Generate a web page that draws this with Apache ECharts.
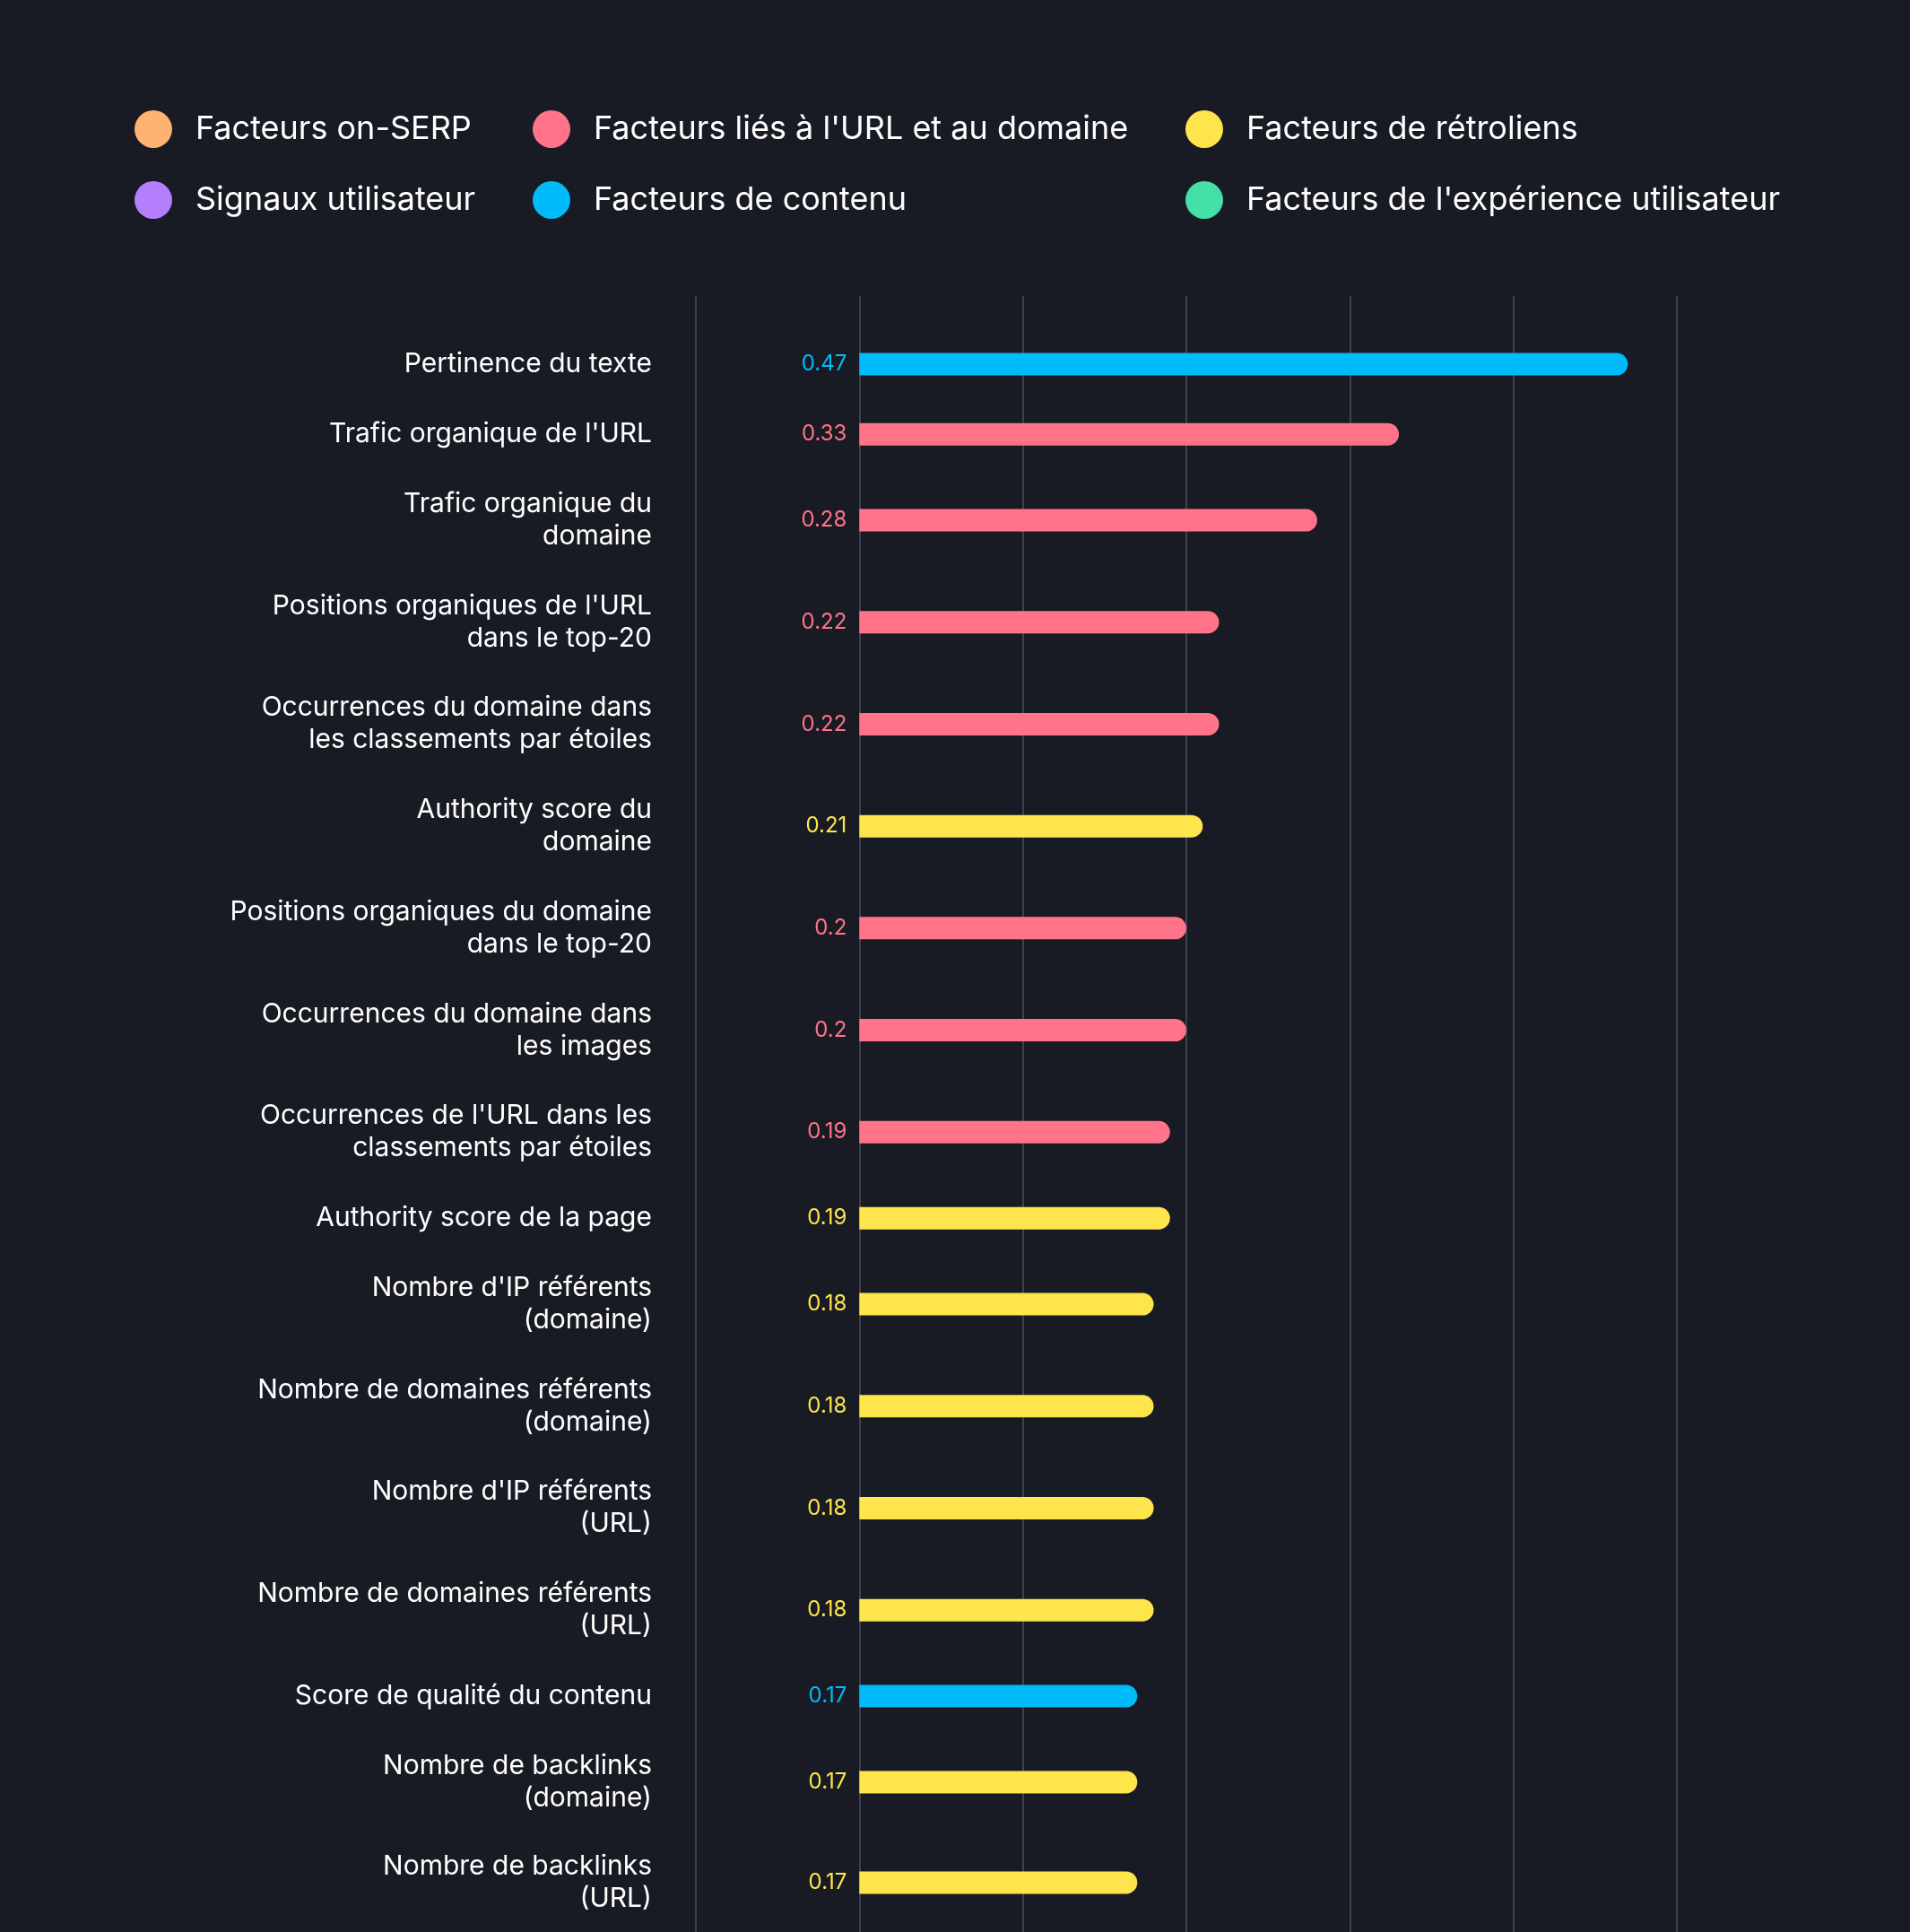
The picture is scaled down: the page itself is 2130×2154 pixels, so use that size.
<!DOCTYPE html>
<html><head><meta charset="utf-8">
<script src="https://cdn.jsdelivr.net/npm/echarts@6/dist/echarts.min.js"></script>
<style>html,body{margin:0;padding:0;background:#191b24}#c{width:2130px;height:2154px}</style>
</head><body><div id="c"></div>
<script>
const categories = [
  "Pertinence du texte",
  "Trafic organique de l'URL",
  "Trafic organique du\ndomaine",
  "Positions organiques de l'URL\ndans le top-20",
  "Occurrences du domaine dans\nles classements par étoiles",
  "Authority score du\ndomaine",
  "Positions organiques du domaine\ndans le top-20",
  "Occurrences du domaine dans\nles images",
  "Occurrences de l'URL dans les\nclassements par étoiles",
  "Authority score de la page",
  "Nombre d'IP référents\n(domaine)",
  "Nombre de domaines référents\n(domaine)",
  "Nombre d'IP référents\n(URL)",
  "Nombre de domaines référents\n(URL)",
  "Score de qualité du contenu",
  "Nombre de backlinks\n(domaine)",
  "Nombre de backlinks\n(URL)"
];
const values = [0.47, 0.33, 0.28, 0.22, 0.22, 0.21, 0.2, 0.2, 0.19, 0.19, 0.18, 0.18, 0.18, 0.18, 0.17, 0.17, 0.17];
const legendNames = [
  "Facteurs on-SERP",
  "Signaux utilisateur",
  "Facteurs liés à l'URL et au domaine",
  "Facteurs de contenu",
  "Facteurs de rétroliens",
  "Facteurs de l'expérience utilisateur"
];
const legendColors = ["#ffb370", "#b57efd", "#ff7489", "#00bbfa", "#ffe54c", "#45e0a8"];
// group index (into legendNames) of each row
const groups = [3, 2, 2, 2, 2, 4, 2, 2, 2, 4, 4, 4, 4, 4, 3, 4, 4];
const axisTicks = [-0.1, 0.5, 0.1]; // min, max, interval

(function () {
const FONT = "Inter";
const GRID_LEFT = 776, GRID_RIGHT = 260, ROW_START = 367, ROW_BASE = 42.5, LINE_H = 35.6;

const grids = [{left: GRID_LEFT, right: GRID_RIGHT, top: 330, bottom: 0}];
const xAxes = [{
  type: "value", gridIndex: 0, min: axisTicks[0], max: axisTicks[1], interval: axisTicks[2],
  axisLine: {show: false}, axisTick: {show: false}, axisLabel: {show: false},
  splitLine: {show: true, lineStyle: {color: "#3d404d", width: 2}}
}];
const yAxes = [{type: "category", gridIndex: 0, data: [""], show: false}];
const series = [];

let rowTop = ROW_START;
categories.forEach((cat, i) => {
  const lines = cat.split("\n").length;
  const h = ROW_BASE + lines * LINE_H;
  const gi = i + 1;
  grids.push({left: GRID_LEFT, right: GRID_RIGHT, top: rowTop, height: h});
  rowTop += h;
  xAxes.push({
    type: "value", gridIndex: gi, min: axisTicks[0], max: axisTicks[1], interval: axisTicks[2],
    axisLine: {show: false}, axisTick: {show: false}, axisLabel: {show: false}, splitLine: {show: false}
  });
  yAxes.push({
    type: "category", gridIndex: gi, data: [cat],
    axisLine: {show: false}, axisTick: {show: false}, splitLine: {show: false},
    axisLabel: {color: "#ffffff", fontSize: 30, fontFamily: FONT, lineHeight: 36, margin: 49, align: "right"}
  });
  const color = legendColors[groups[i]];
  series.push({
    type: "bar", name: legendNames[groups[i]], xAxisIndex: gi, yAxisIndex: gi,
    data: [values[i]], barWidth: 25,
    itemStyle: {color: color, borderRadius: [0, 13, 13, 0]},
    label: {show: true, position: "left", distance: 14, color: color, fontSize: 24, fontFamily: FONT},
    emphasis: {disabled: true}
  });
});
legendNames.forEach((n, k) => {
  if (!groups.includes(k)) {
    series.push({type: "bar", name: n, xAxisIndex: 0, yAxisIndex: 0, data: [], itemStyle: {color: legendColors[k]}});
  }
});

const legendBase = {
  orient: "vertical", top: 123, itemWidth: 42, itemHeight: 42, itemGap: 37, icon: "circle", padding: 0,
  selectedMode: false,
  textStyle: {color: "#ffffff", fontSize: 36, fontFamily: FONT, padding: [0, 0, 0, 21]}
};
const legends = [
  Object.assign({}, legendBase, {left: 150, data: [legendNames[0], legendNames[1]]}),
  Object.assign({}, legendBase, {left: 594, data: [legendNames[2], legendNames[3]]}),
  Object.assign({}, legendBase, {left: 1322, data: [legendNames[4], legendNames[5]]})
];

const chart = echarts.init(document.getElementById("c"), null, {renderer: "canvas"});
chart.setOption({
  backgroundColor: "#191b24",
  animation: false,
  legend: legends,
  grid: grids,
  xAxis: xAxes,
  yAxis: yAxes,
  series: series
});
})();
</script>
</body></html>
